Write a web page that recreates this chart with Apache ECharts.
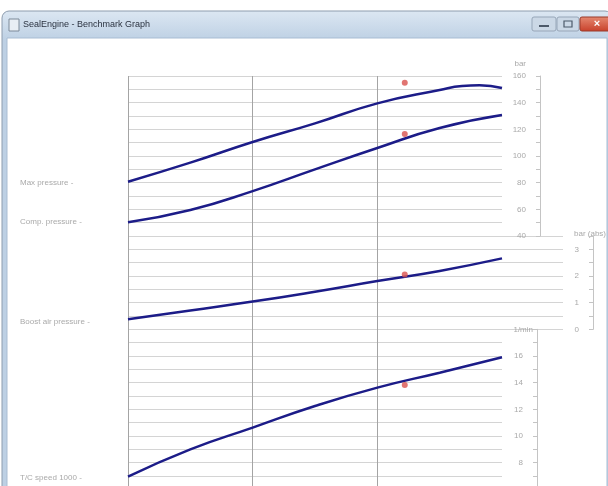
<!DOCTYPE html>
<html>
<head>
<meta charset="utf-8">
<script src="https://cdn.jsdelivr.net/npm/echarts@6/dist/echarts.min.js"></script>
<style>html,body{margin:0;padding:0;background:#fff;overflow:hidden;}#c{width:608px;height:500px;}</style>
</head>
<body>
<div id="c"></div>
<script>
// Engine load positions (x) of the curve samples
const loadX = [25, 37.5, 50, 62.5, 75, 87.5, 100];
const maxPressX = [25, 37.5, 50, 62.5, 75, 87.5, 92, 95.5, 100];
const maxPressure = [80.7, 95, 110.5, 124.5, 139.5, 149.5, 152.5, 153, 151];
const compPressure = [50.3, 59.5, 73.7, 90, 106, 121, 130.7];
const boostPressure = [0.375, 0.71, 1.04, 1.41, 1.81, 2.19, 2.66];
const tcSpeed = [6.95, 9.0, 10.63, 12.25, 13.63, 14.75, 15.9];
// Measured (red) points
const measX = 80.5;
const measMax = 155, measComp = 116.5, measBoost = 2.06, measTc = 13.83;
const seriesLabels = ['Max pressure -', 'Comp. pressure -', 'Boost air pressure -', 'T/C speed 1000 -'];
const axisNames = ['bar', 'bar (abs)', '1/min'];

const pairs = (xs, ys) => xs.map((x, i) => [x, ys[i]]);
const gray = '#a9a9a9';
const font = 'Liberation Sans';
const lineColor = '#1c1c88';
const dotColor = '#d9534f';
const hGrid = '#d4d4d4';

const chart = echarts.init(document.getElementById('c'));
const lineSeries = (name, xi, yi, data) => ({
  name, type: 'line', xAxisIndex: xi, yAxisIndex: yi, data, smooth: 0.5,
  showSymbol: false, symbol: 'none', lineStyle: {color: lineColor, width: 2.5}, z: 5
});
const dot = (xi, yi, v) => ({
  type: 'scatter', xAxisIndex: xi, yAxisIndex: yi, data: [[measX, v]],
  symbolSize: 6, itemStyle: {color: dotColor}, z: 6
});
const hiddenX = (gi, min, max) => ({
  type: 'value', gridIndex: gi, min: min, max: max, show: false, splitLine: {show: false}
});
const yAx = (gi, min, max, interval, offset, fmt, name, nameStyle, nameGap) => ({
  type: 'value', gridIndex: gi, position: 'right', offset, min, max, interval,
  name, nameLocation: 'end', nameGap, nameTextStyle: Object.assign({color: gray, fontSize: 8, fontFamily: font}, nameStyle),
  axisLine: {show: true, lineStyle: {color: '#c4c4c4'}},
  axisTick: {show: true, inside: true, length: 4, lineStyle: {color: '#c4c4c4'}},
  axisLabel: {inside: true, margin: 14, color: gray, fontSize: 8, fontFamily: font, formatter: fmt},
  splitLine: {show: true, lineStyle: {color: hGrid, width: 1}}
});
const g = (left, top, width, height) => ({left, top, width, height, containLabel: false, outerBoundsMode: 'none'});

const option = {
  animation: false,
  backgroundColor: '#ffffff',
  grid: [
    g(128, 76, 374, 160),
    g(128, 236, 374, 93.33),
    g(128, 329.33, 374, 160),
    g(128, 76, 374, 420),
    g(502, 236, 61, 93.33)
  ],
  xAxis: [
    hiddenX(0, 25, 100), hiddenX(1, 25, 100), hiddenX(2, 25, 100),
    {type: 'value', gridIndex: 3, min: 25, max: 100, interval: 25,
     axisLine: {show: false}, axisTick: {show: false}, axisLabel: {show: false},
     splitLine: {show: true, showMaxLine: false, showMinLine: true, lineStyle: {color: '#a4a4a4', width: 1}}},
    hiddenX(4, 0, 1)
  ],
  yAxis: [
    yAx(0, 40, 160, 10, 38, v => (v % 20 === 0 ? String(v) : ''), axisNames[0], {align: 'right', padding: [0, 14, 0, 0]}, 8),
    yAx(1, 0, 3.5, 0.5, 91, v => (Number.isInteger(v) ? String(v) : ''), axisNames[1], {align: 'center', padding: [0, 6, 0, 0]}, -2),
    yAx(2, 6, 18, 1, 35, v => (v % 2 === 0 && v < 18 ? String(v) : ''), axisNames[2], {align: 'right', padding: [0, 4, 0, 0]}, -4),
    {type: 'value', gridIndex: 3, show: false, min: 0, max: 1, splitLine: {show: false}},
    {type: 'value', gridIndex: 4, min: 0, max: 3.5, interval: 0.5, axisLine: {show: false}, axisTick: {show: false},
     axisLabel: {show: false}, splitLine: {show: true, lineStyle: {color: hGrid, width: 1}}}
  ],
  series: [
    lineSeries('Max pressure', 0, 0, pairs(maxPressX, maxPressure)),
    lineSeries('Comp. pressure', 0, 0, pairs(loadX, compPressure)),
    lineSeries('Boost air pressure', 1, 1, pairs(loadX, boostPressure)),
    lineSeries('T/C speed', 2, 2, pairs(loadX, tcSpeed)),
    dot(0, 0, measMax), dot(0, 0, measComp), dot(1, 1, measBoost), dot(2, 2, measTc)
  ],
  graphic: [
    // window frame & title bar
    {type: 'rect', z: -10, shape: {x: 2, y: 11, width: 610, height: 500, r: [7, 7, 0, 0]},
     style: {fill: new echarts.graphic.LinearGradient(0, 0, 0, 0.06, [{offset: 0, color: '#dce7f2'}, {offset: 1, color: '#bdd0e4'}]), stroke: '#8d9cae', lineWidth: 1}},
    {type: 'rect', z: -9, shape: {x: 7, y: 38, width: 600, height: 470}, style: {fill: '#ffffff', stroke: '#a9bdd3', lineWidth: 1}},
    {type: 'rect', z: 20, shape: {x: 9, y: 19, width: 10, height: 12}, style: {fill: '#e8eef5', stroke: '#7d8a99', lineWidth: 1}},
    {type: 'text', z: 20, x: 23, y: 25, style: {text: 'SealEngine - Benchmark Graph', fill: '#2b3340', fontSize: 9, fontFamily: font, textVerticalAlign: 'middle'}},
    {type: 'rect', z: 20, shape: {x: 532, y: 17, width: 24, height: 14, r: 2}, style: {fill: '#cbd8e6', stroke: '#97a6b8', lineWidth: 1}},
    {type: 'rect', z: 21, shape: {x: 539, y: 25, width: 10, height: 2}, style: {fill: '#4d5a6a'}},
    {type: 'rect', z: 20, shape: {x: 557, y: 17, width: 22, height: 14, r: 2}, style: {fill: '#cbd8e6', stroke: '#97a6b8', lineWidth: 1}},
    {type: 'rect', z: 21, shape: {x: 564, y: 21, width: 8, height: 6}, style: {fill: 'none', stroke: '#4d5a6a', lineWidth: 1.2}},
    {type: 'rect', z: 20, shape: {x: 580, y: 17, width: 30, height: 14, r: 2},
     style: {fill: new echarts.graphic.LinearGradient(0, 0, 0, 1, [{offset: 0, color: '#e58a72'}, {offset: 1, color: '#c8402a'}]), stroke: '#9a3a2a', lineWidth: 1}},
    {type: 'text', z: 21, x: 597, y: 24, style: {text: '×', fill: '#ffffff', fontSize: 11, fontWeight: 'bold', fontFamily: font, textAlign: 'center', textVerticalAlign: 'middle'}},
    // series labels at left
    {type: 'text', z: 20, x: 20, y: 183, style: {text: seriesLabels[0], fill: gray, fontSize: 8, fontFamily: font, textVerticalAlign: 'middle'}},
    {type: 'text', z: 20, x: 20, y: 222, style: {text: seriesLabels[1], fill: gray, fontSize: 8, fontFamily: font, textVerticalAlign: 'middle'}},
    {type: 'text', z: 20, x: 20, y: 322, style: {text: seriesLabels[2], fill: gray, fontSize: 8, fontFamily: font, textVerticalAlign: 'middle'}},
    {type: 'text', z: 20, x: 20, y: 478, style: {text: seriesLabels[3], fill: gray, fontSize: 8, fontFamily: font, textVerticalAlign: 'middle'}}
  ]
};
chart.setOption(option);
</script>
</body>
</html>
